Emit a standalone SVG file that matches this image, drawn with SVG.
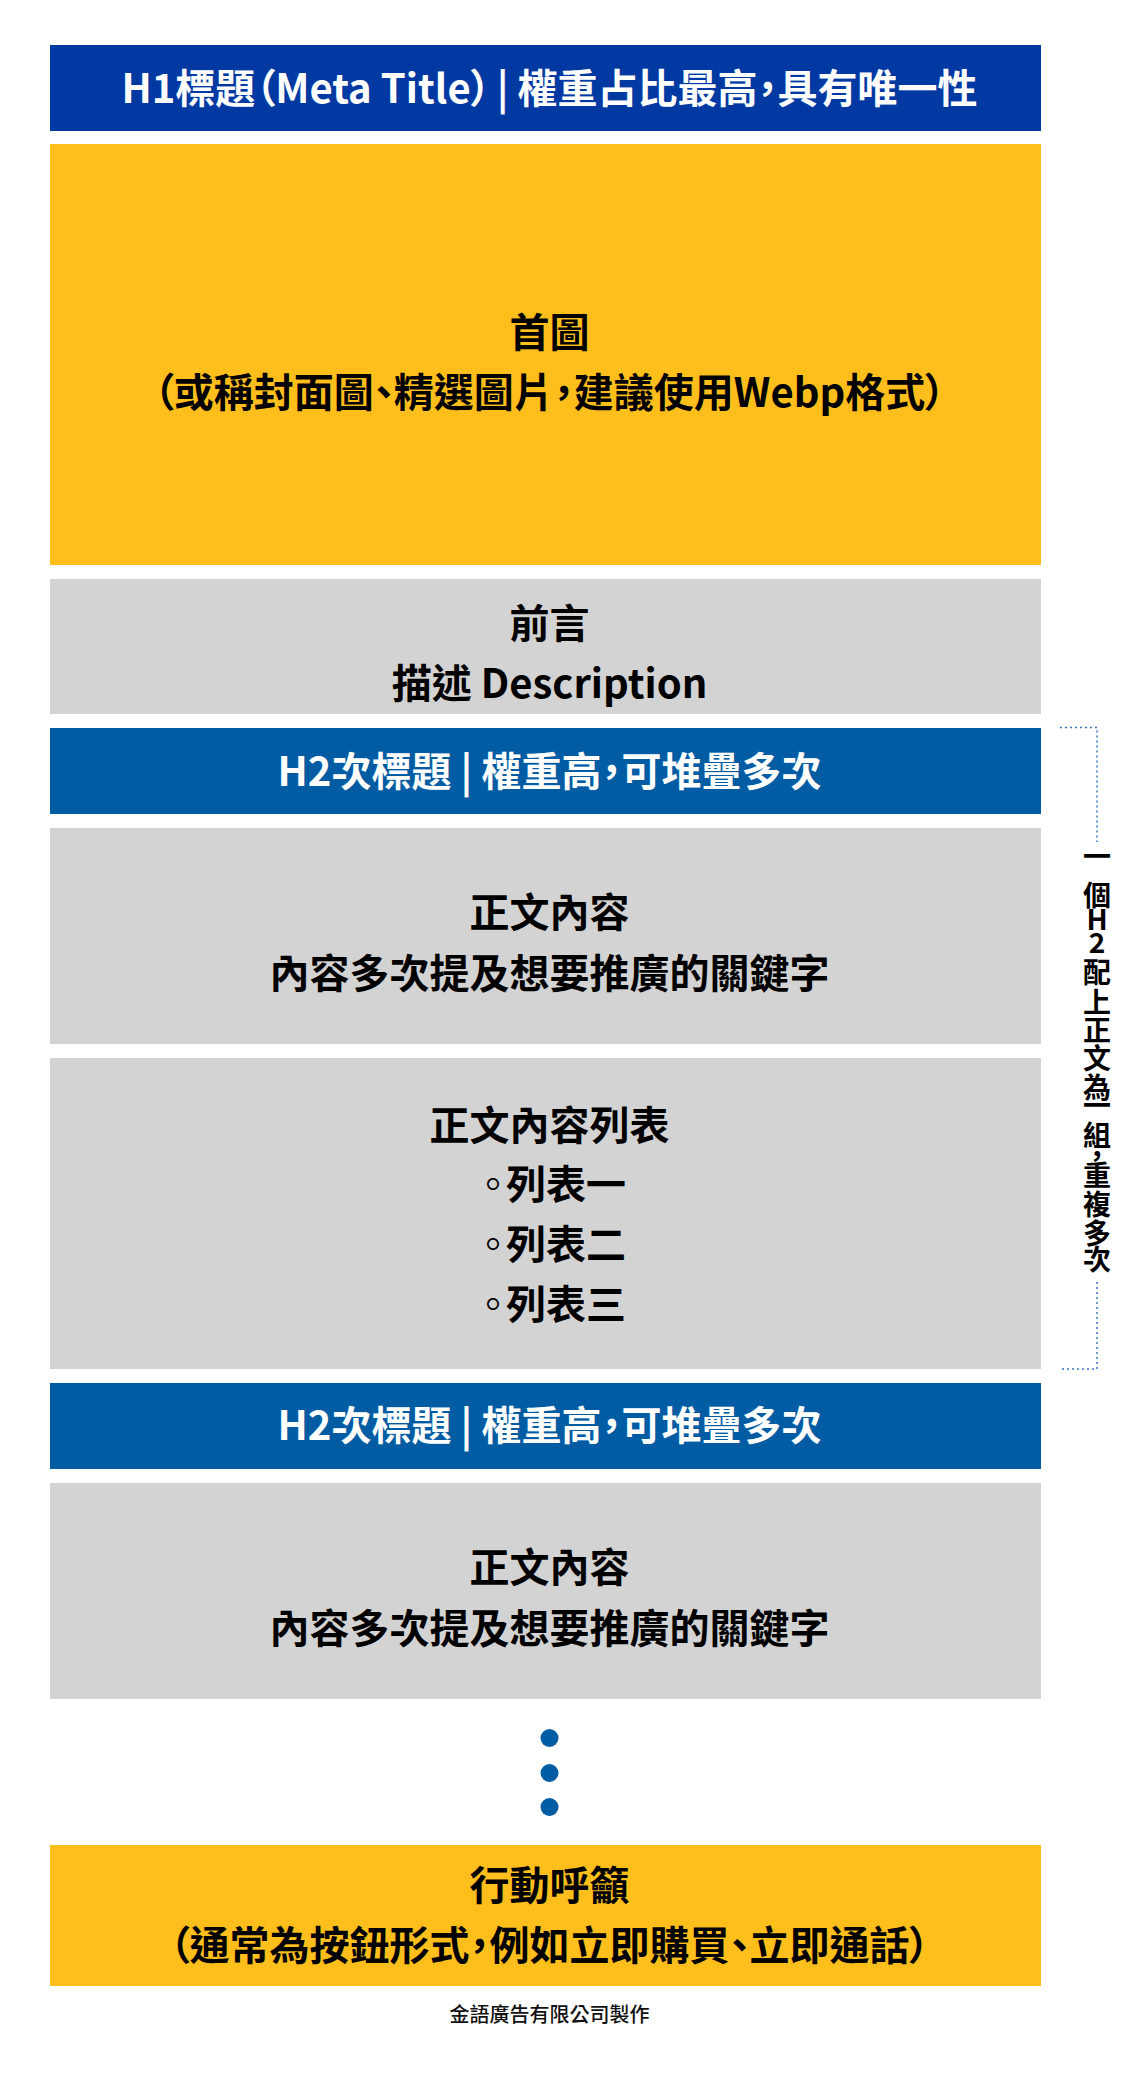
<svg xmlns="http://www.w3.org/2000/svg" width="1148" height="2080" viewBox="0 0 1148 2080">
<style>
text{font-family:"Noto Sans CJK TC","Noto Sans CJK SC","Noto Sans CJK JP",sans-serif;font-weight:700;font-feature-settings:"palt" 1;}
.c{text-anchor:middle;}
.w{fill:#ffffff;font-size:40px;}
.k{fill:#000000;font-size:40px;}
.h1{fill:#0039A2;}
.h2{fill:#015CA3;}
.y{fill:#FEBE1C;}
.g{fill:#D3D3D3;}
.v{fill:#000000;font-size:28px;font-feature-settings:normal;}
.foot{fill:#111111;font-size:20px;font-weight:500;}
.dot{fill:#015CA3;}
.br{fill:none;stroke:#3A78C2;stroke-width:1.5;stroke-dasharray:2 3;}
</style>
<rect width="1148" height="2080" fill="#ffffff"/>
<g id="h1">
<rect class="h1" x="50" y="45" width="991" height="86"/>
<text class="w c" x="549.5" y="103">H1標題（Meta Title）<tspan dx="6">|</tspan> 權重占比最高，具有唯一性</text>
</g>
<g id="featured-image">
<rect class="y" x="50" y="144" width="991" height="421"/>
<text class="k c" x="549.5" y="347">首圖</text>
<text class="k c" x="549.5" y="407">（或稱封面圖、精選圖片，建議使用Webp格式）</text>
</g>
<g id="intro">
<rect class="g" x="50" y="579" width="991" height="135"/>
<text class="k c" x="549.5" y="638">前言</text>
<text class="k c" x="549.5" y="698">描述 Description</text>
</g>
<g id="h2-a">
<rect class="h2" x="50" y="728" width="991" height="86"/>
<text class="w c" x="549.5" y="786">H2次標題 | 權重高，可堆疊多次</text>
</g>
<g id="body-a">
<rect class="g" x="50" y="828" width="991" height="216"/>
<text class="k c" x="549.5" y="927">正文內容</text>
<text class="k c" x="549.5" y="988">內容多次提及想要推廣的關鍵字</text>
</g>
<g id="body-list">
<rect class="g" x="50" y="1058" width="991" height="311"/>
<text class="k c" x="549.5" y="1140">正文內容列表</text>
<text class="k c" x="549.5" y="1199" dx="0 -7">◦列表一</text>
<text class="k c" x="549.5" y="1259" dx="0 -7">◦列表二</text>
<text class="k c" x="549.5" y="1319" dx="0 -7">◦列表三</text>
</g>
<g id="h2-b">
<rect class="h2" x="50" y="1383" width="991" height="86"/>
<text class="w c" x="549.5" y="1440">H2次標題 | 權重高，可堆疊多次</text>
</g>
<g id="body-b">
<rect class="g" x="50" y="1483" width="991" height="216"/>
<text class="k c" x="549.5" y="1582">正文內容</text>
<text class="k c" x="549.5" y="1643">內容多次提及想要推廣的關鍵字</text>
</g>
<g id="ellipsis">
<circle class="dot" cx="549.5" cy="1738" r="9"/>
<circle class="dot" cx="549.5" cy="1773" r="9"/>
<circle class="dot" cx="549.5" cy="1807" r="9"/>
</g>
<g id="cta">
<rect class="y" x="50" y="1845" width="991" height="141"/>
<text class="k c" x="549.5" y="1900">行動呼籲</text>
<text class="k c" x="549.5" y="1960">（通常為按鈕形式，例如立即購買、立即通話）</text>
</g>
<g id="connectors">
<path class="br" d="M1060 727.5 H1097 V842"/>
<path class="br" d="M1097 1282 V1369 H1060"/>
</g>
<g id="group-label">
<text class="v c" x="1097 1097 1097 1097 1097 1097 1097 1097 1097 1097 1097 1097 1097 1097 1097 1097" y="867 906 930 953 983 1013 1041 1069 1098 1116 1146 1167 1186 1215 1244 1270">一個H2配上正文為一組，重複多次</text>
</g>
<g id="footer">
<text class="foot c" x="549.5" y="2022">金語廣告有限公司製作</text>
</g>
</svg>
